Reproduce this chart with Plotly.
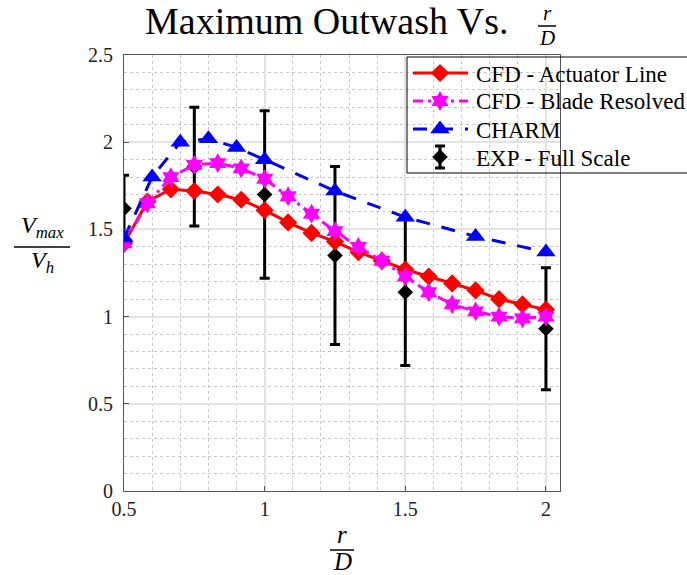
import plotly.graph_objects as go

# ---- data ----
x_cfd = [0.5 + k / 12 for k in range(19)]
actuator_line = [1.42, 1.66, 1.73, 1.72, 1.70, 1.67, 1.61, 1.54, 1.48, 1.43, 1.37, 1.32,
                 1.27, 1.23, 1.19, 1.15, 1.10, 1.07, 1.04]
blade_resolved = [1.42, 1.65, 1.80, 1.87, 1.88, 1.85, 1.79, 1.69, 1.59, 1.49, 1.40, 1.32,
                  1.23, 1.14, 1.07, 1.03, 1.00, 0.99, 1.00]
x_charm = [0.5, 0.6, 0.7, 0.8, 0.9, 1.0, 1.25, 1.5, 1.75, 2.0]
charm = [1.45, 1.80, 2.00, 2.02, 1.97, 1.90, 1.72, 1.57, 1.46, 1.37]
x_exp = [0.5, 0.75, 1.0, 1.25, 1.5, 2.0]
exp_full = [1.62, 1.86, 1.70, 1.35, 1.14, 0.93]
exp_err = [0.19, 0.34, 0.48, 0.51, 0.42, 0.35]

x_ticks = [0.5, 1, 1.5, 2]
y_ticks = [0, 0.5, 1, 1.5, 2, 2.5]
series_names = ["CFD - Actuator Line", "CFD - Blade Resolved", "CHARM", "EXP - Full Scale"]

FONT = "Liberation Serif"
W, H = 687, 575
L, R, T, B = 124, 560, 55, 491

STY = {
    "al": dict(color="red", dash="solid", symbol="diamond", size=14),
    "br": dict(color="magenta", dash="10px,5px,3px,5px", symbol="hexagram", size=15),
    "ch": dict(color="blue", dash="14px,12px", symbol="triangle-up", size=17),
    "ex": dict(color="black", symbol="diamond", size=12),
}

fig = go.Figure()
fig.add_trace(go.Scatter(
    x=x_exp, y=exp_full, mode="markers", name=series_names[3], showlegend=False,
    marker=dict(symbol=STY["ex"]["symbol"], size=STY["ex"]["size"], color="black"),
    error_y=dict(type="data", array=exp_err, color="black", thickness=3, width=5)))
for key, yy, xx, nm in [("al", actuator_line, x_cfd, series_names[0]),
                        ("br", blade_resolved, x_cfd, series_names[1]),
                        ("ch", charm, x_charm, series_names[2])]:
    s = STY[key]
    fig.add_trace(go.Scatter(
        x=xx, y=yy, mode="lines+markers", name=nm, showlegend=False,
        line=dict(color=s["color"], width=3, dash=s["dash"]),
        marker=dict(symbol=s["symbol"], size=s["size"], color=s["color"])))

def px(xp):
    return (xp - L) / (R - L)

def py(yp):
    return (B - yp) / (B - T)

annotations = []
shapes = []

# ---- hand-built legend (overlay axes in plot-area fractions) ----
LEG_L, LEG_T, LEG_B = 407, 57, 173
rows = [73, 101, 129, 157]
sym_x0, sym_x1, sym_c = 413, 468, 440
shapes.append(dict(type="rect", xref="paper", yref="paper", layer="between",
                   x0=px(LEG_L), x1=px(700), y0=py(LEG_B), y1=py(LEG_T),
                   fillcolor="white", line=dict(width=0)))
shapes.append(dict(type="rect", xref="paper", yref="paper", layer="above",
                   x0=px(LEG_L), x1=px(700), y0=py(LEG_B), y1=py(LEG_T),
                   fillcolor="rgba(0,0,0,0)", line=dict(color="black", width=1)))
for key, ry in zip(["al", "br", "ch"], rows[:3]):
    s = STY[key]
    fig.add_trace(go.Scatter(
        x=[px(sym_x0), px(sym_c), px(sym_x1)], y=[py(ry)] * 3, xaxis="x2", yaxis="y2",
        mode="lines", line=dict(color=s["color"], width=3, dash=s["dash"]),
        showlegend=False, hoverinfo="skip", cliponaxis=False))
    fig.add_trace(go.Scatter(
        x=[px(sym_c)], y=[py(ry)], xaxis="x2", yaxis="y2", mode="markers",
        marker=dict(symbol=s["symbol"], size=s["size"], color=s["color"]),
        showlegend=False, hoverinfo="skip", cliponaxis=False))
fig.add_trace(go.Scatter(
    x=[px(sym_c)], y=[py(rows[3])], xaxis="x2", yaxis="y2", mode="markers",
    marker=dict(symbol="diamond", size=12, color="black"),
    error_y=dict(type="data", array=[11 / (B - T)], color="black", thickness=3, width=5),
    showlegend=False, hoverinfo="skip", cliponaxis=False))
for nm, ry in zip(series_names, rows):
    annotations.append(dict(x=px(474), y=py(ry + 1), xref="paper", yref="paper", text=nm,
                            showarrow=False, xanchor="left", yanchor="middle",
                            font=dict(family=FONT, size=23, color="black")))

def frac(cx, ytop, yline, ybot, top, bot, half, size):
    annotations.append(dict(x=px(cx), y=py(ytop), xref="paper", yref="paper", text=top,
                            showarrow=False, font=dict(family=FONT, size=size, color="black"),
                            xanchor="center", yanchor="middle"))
    annotations.append(dict(x=px(cx), y=py(ybot), xref="paper", yref="paper", text=bot,
                            showarrow=False, font=dict(family=FONT, size=size, color="black"),
                            xanchor="center", yanchor="middle"))
    shapes.append(dict(type="line", xref="paper", yref="paper",
                       x0=px(cx - half), x1=px(cx + half), y0=py(yline), y1=py(yline),
                       line=dict(color="black", width=1.5)))

# title
annotations.append(dict(x=px(326), y=py(21), xref="paper", yref="paper",
                        text="Maximum Outwash Vs.", showarrow=False,
                        font=dict(family=FONT, size=38, color="black"),
                        xanchor="center", yanchor="middle"))
frac(547, 13, 26, 38, "<i>r</i>", "<i>D</i>", 9, 21)
# x label
frac(342, 534, 550, 561, "<i>r</i>", "<i>D</i>", 12, 25)
# y label
frac(42, 227, 247, 262, "<i>V<sub>max</sub></i>", "<i>V<sub>h</sub></i>", 28, 24)

axis_common = dict(showline=True, linecolor="#555", linewidth=1, mirror=True,
                   ticks="inside", ticklen=5, tickcolor="#555",
                   showgrid=True, gridcolor="#e3e3e3", gridwidth=1.5,
                   tickfont=dict(family=FONT, size=20, color="#222"), zeroline=False)

fig.update_xaxes(range=[0.5, 2.05], tickvals=x_ticks, ticktext=["0.5", "1", "1.5", "2"],
                 minor=dict(dtick=0.1, tick0=0.5, showgrid=True, gridcolor="#c8c8c8",
                            griddash="dot", gridwidth=1, ticks=""),
                 **axis_common)
fig.update_yaxes(range=[0, 2.5], tickvals=y_ticks, ticktext=["0", "0.5", "1", "1.5", "2", "2.5"],
                 minor=dict(dtick=0.1, tick0=0, showgrid=True, gridcolor="#c8c8c8",
                            griddash="dot", gridwidth=1, ticks=""),
                 ticklabelstandoff=6,
                 **axis_common)

fig.update_layout(
    width=W, height=H,
    margin=dict(l=L, r=W - R, t=T, b=H - B, autoexpand=False),
    plot_bgcolor="white", paper_bgcolor="white",
    font=dict(family=FONT, color="black"),
    annotations=annotations, shapes=shapes,
    xaxis2=dict(overlaying="x", range=[0, 1], visible=False, fixedrange=True),
    yaxis2=dict(overlaying="y", range=[0, 1], visible=False, fixedrange=True),
    showlegend=False,
)

fig.write_html("out.html", config={"displayModeBar": False},
               post_script="document.body.style.margin='0';")
